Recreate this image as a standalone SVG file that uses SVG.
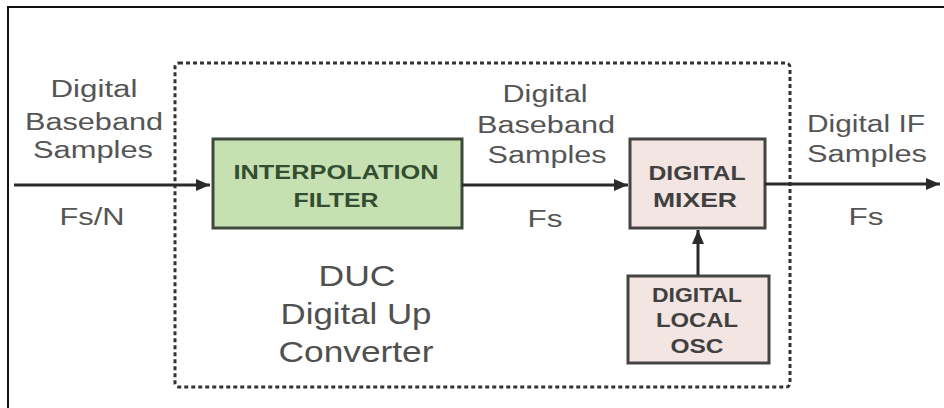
<svg xmlns="http://www.w3.org/2000/svg" width="944" height="408" viewBox="0 0 944 408">
<defs>
<marker id="ah" viewBox="0 0 14 12" refX="14" refY="6" markerWidth="14" markerHeight="12" markerUnits="userSpaceOnUse" orient="auto">
<path d="M0,0 L14,6 L0,12 z" fill="#2a2a2a"/>
</marker>
</defs>
<style>
text{font-family:"Liberation Sans",Arial,sans-serif;text-anchor:middle}
.lbl{font-size:23px;fill:#555}
.big{font-size:29px;fill:#505050}
.bx{font-size:20px;font-weight:bold}
.g{fill:#334d30}
.d{fill:#404040}
.conn{stroke:#2a2a2a;stroke-width:3;fill:none;marker-end:url(#ah)}
</style>
<rect width="944" height="408" fill="#fff"/>
<path d="M8,408 L8,7 L944,7" fill="none" stroke="#111" stroke-width="2"/>
<g id="duc">
<rect x="175" y="63" width="615" height="324" rx="4" fill="none" stroke="#333" stroke-width="3" stroke-dasharray="4,3"/>
<text class="big" x="357" y="286" textLength="77" lengthAdjust="spacingAndGlyphs">DUC</text>
<text class="big" x="356" y="324" textLength="151" lengthAdjust="spacingAndGlyphs">Digital Up</text>
<text class="big" x="356" y="362" textLength="155" lengthAdjust="spacingAndGlyphs">Converter</text>
</g>
<g id="input-labels">
<text class="lbl" x="94" y="97" textLength="87" lengthAdjust="spacingAndGlyphs">Digital</text>
<text class="lbl" x="94" y="130" textLength="138" lengthAdjust="spacingAndGlyphs">Baseband</text>
<text class="lbl" x="93" y="158" textLength="120" lengthAdjust="spacingAndGlyphs">Samples</text>
<text class="lbl" x="92" y="225" textLength="65" lengthAdjust="spacingAndGlyphs">Fs/N</text>
</g>
<g id="mid-labels">
<text class="lbl" x="545" y="102" textLength="85" lengthAdjust="spacingAndGlyphs">Digital</text>
<text class="lbl" x="546" y="133" textLength="138" lengthAdjust="spacingAndGlyphs">Baseband</text>
<text class="lbl" x="547" y="163" textLength="119" lengthAdjust="spacingAndGlyphs">Samples</text>
<text class="lbl" x="545" y="227" textLength="35" lengthAdjust="spacingAndGlyphs">Fs</text>
</g>
<g id="out-labels">
<text class="lbl" x="866" y="132" textLength="118" lengthAdjust="spacingAndGlyphs">Digital IF</text>
<text class="lbl" x="867" y="162" textLength="120" lengthAdjust="spacingAndGlyphs">Samples</text>
<text class="lbl" x="866" y="225" textLength="35" lengthAdjust="spacingAndGlyphs">Fs</text>
</g>
<g id="interp">
<rect x="213" y="139" width="249" height="89" fill="#c6e0b2" stroke="#3d4a3a" stroke-width="3"/>
<text class="bx g" x="336" y="179" textLength="205" lengthAdjust="spacingAndGlyphs">INTERPOLATION</text>
<text class="bx g" x="336" y="207" textLength="85" lengthAdjust="spacingAndGlyphs">FILTER</text>
</g>
<g id="mixer">
<rect x="630" y="139" width="135" height="89" fill="#f3e5e2" stroke="#444" stroke-width="3"/>
<text class="bx d" x="697" y="180" textLength="97" lengthAdjust="spacingAndGlyphs">DIGITAL</text>
<text class="bx d" x="695" y="207" textLength="84" lengthAdjust="spacingAndGlyphs">MIXER</text>
</g>
<g id="osc">
<rect x="628" y="276" width="141" height="87" fill="#f3e5e2" stroke="#444" stroke-width="3"/>
<text class="bx d" x="697" y="302" textLength="90" lengthAdjust="spacingAndGlyphs">DIGITAL</text>
<text class="bx d" x="697" y="327" textLength="82" lengthAdjust="spacingAndGlyphs">LOCAL</text>
<text class="bx d" x="697" y="353" textLength="53" lengthAdjust="spacingAndGlyphs">OSC</text>
</g>
<g id="connectors">
<line class="conn" x1="14" y1="185" x2="210" y2="185"/>
<line class="conn" x1="462" y1="185" x2="628" y2="185"/>
<line class="conn" x1="765" y1="184" x2="940" y2="184"/>
<line class="conn" x1="698" y1="275" x2="698" y2="230"/>
</g>
</svg>
